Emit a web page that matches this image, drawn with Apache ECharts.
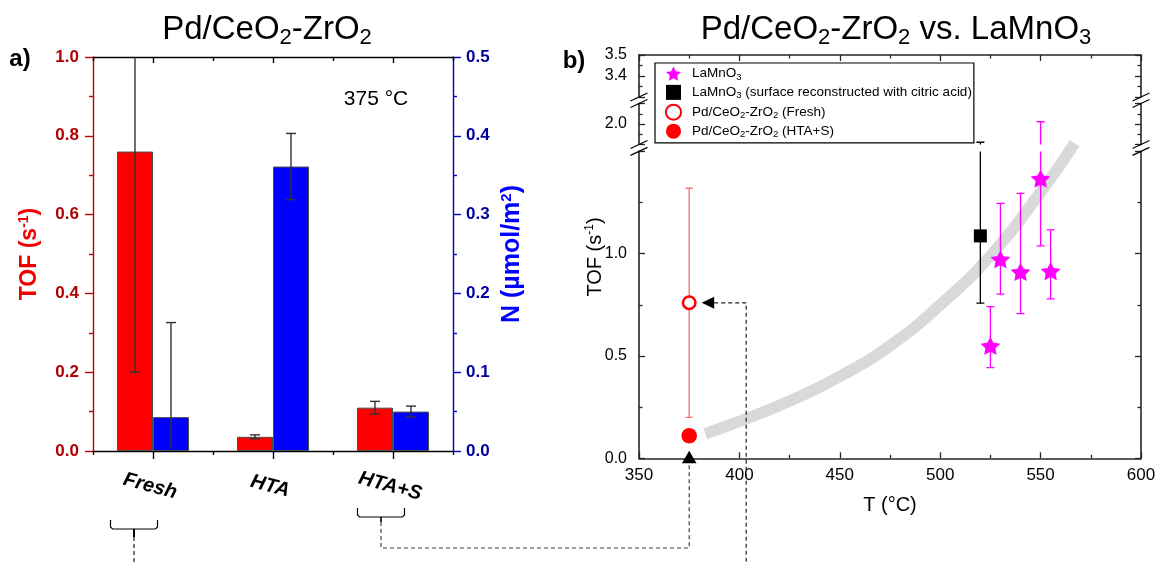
<!DOCTYPE html>
<html>
<head>
<meta charset="utf-8">
<script src="https://cdn.jsdelivr.net/npm/echarts@6/dist/echarts.min.js"></script>
<style>
  html, body { margin: 0; padding: 0; background: #fff; }
  #chart { width: 1155px; height: 565px; }
</style>
</head>
<body>
<div id="chart"></div>
<script>
// ---- Panel a: Pd/CeO2-ZrO2 at 375 °C ----
const treatments = ['Fresh', 'HTA', 'HTA+S'];
const tofValues = [0.76, 0.036, 0.11];
const tofErrors = [0.56, 0.005, 0.016];
const siteDensity = [0.043, 0.361, 0.050];
const siteDensityErrors = [0.12, 0.042, 0.007];

// ---- Panel b: TOF vs temperature ----
const lamnoT = [525, 530, 540, 550, 555];
const lamnoTOF = [0.550, 0.973, 0.911, 1.367, 0.915];
const lamnoLow = [0.443, 0.802, 0.707, 1.038, 0.779];
const lamnoHigh = [0.741, 1.246, 1.295, 2.011, 1.116];
const citricT = [520];
const citricTOF = [1.087];
const citricLow = [0.758];
const citricHigh = [1.911];
const pdT = [375];
const pdFreshTOF = [0.76];
const pdFreshLow = [0.20];
const pdFreshHigh = [1.32];
const pdAgedTOF = [0.11];
// grey guide curve
const trendT = [383, 400, 425, 450, 475, 500, 525, 550, 567];
const trendTOF = [0.12, 0.18, 0.28, 0.40, 0.55, 0.75, 0.99, 1.30, 1.54];

// tick labels of the broken TOF axis
const lowerTickLabels = [0, 0.5, 1.0];
const midTickLabels = [2.0];
const topTickLabels = [3.4, 3.5];

const FONT = '"Liberation Sans", Arial, Helvetica, sans-serif';
const chart = echarts.init(document.getElementById('chart'), null, { renderer: 'canvas', width: 1155, height: 565 });

// layout of the two panels
const GA = { left: 93, top: 57, width: 360, height: 394 };
const BX = 639, BW = 502;
const B_LOW = { top: 151.4, height: 306.9 };
const B_MID = { top: 103.5, height: 41 };
const B_TOP = { top: 55, height: 42 };
const FRAME = '#262626';

const fmt1 = v => Number(v).toFixed(1);
const rt = (size, color, weight, extra) => Object.assign({ fontSize: size, color: color, fontWeight: weight || 'normal', fontFamily: FONT }, extra || {});

const STAR = 'path://M0,-10 L2.94,-4.05 9.51,-3.09 4.76,1.55 5.88,8.09 0,5 -5.88,8.09 -4.76,1.55 -9.51,-3.09 -2.94,-4.05 Z';

function errorBar(color, capHalf, width, shift) {
  return function (params, api) {
    const dx = shift ? shift * api.size([1, 0])[0] : 0;
    const lo = api.coord([api.value(0), api.value(1)]);
    const hi = api.coord([api.value(0), api.value(2)]);
    const x = lo[0] + dx;
    const style = { stroke: color, lineWidth: width, fill: null };
    return {
      type: 'group',
      children: [
        { type: 'line', shape: { x1: x, y1: lo[1], x2: x, y2: hi[1] }, style: style },
        { type: 'line', shape: { x1: x - capHalf, y1: lo[1], x2: x + capHalf, y2: lo[1] }, style: style },
        { type: 'line', shape: { x1: x - capHalf, y1: hi[1], x2: x + capHalf, y2: hi[1] }, style: style }
      ]
    };
  };
}

function valueAxisB(gridIndex, pos, min, max, interval, labels, showLabels) {
  return {
    gridIndex: gridIndex, type: 'value', position: pos, min: min, max: max, interval: interval,
    axisLine: { show: true, lineStyle: { color: FRAME, width: 1.6 } },
    axisTick: { show: true, inside: true, length: 6, lineStyle: { color: FRAME, width: 1.3 } },
    minorTick: { show: true, splitNumber: 2, length: 3.5, lineStyle: { color: FRAME, width: 1.3 } },
    splitLine: { show: false }, minorSplitLine: { show: false },
    axisLabel: {
      show: showLabels, customValues: labels, formatter: fmt1, margin: 12,
      color: '#000', fontSize: 16, fontFamily: FONT
    }
  };
}

const tofErrData = tofValues.map((v, i) => [i, v - tofErrors[i], v + tofErrors[i]]);
const nErrData = siteDensity.map((v, i) => [i, v - siteDensityErrors[i], v + siteDensityErrors[i]]);
const lamnoErrData = lamnoT.map((t, i) => [t, lamnoLow[i], lamnoHigh[i]]);
const citricErrData = citricT.map((t, i) => [t, citricLow[i], citricHigh[i]]);
const pdErrData = pdT.map((t, i) => [t, pdFreshLow[i], pdFreshHigh[i]]);

function catAxis(pos, alignTicks, tickLen, inside, showLine) {
  return {
    gridIndex: 0, type: 'category', data: treatments, position: pos,
    axisLine: { show: showLine, lineStyle: { color: '#000', width: 1.4 } },
    axisTick: { show: true, alignWithLabel: alignTicks, inside: inside, length: tickLen, lineStyle: { color: '#000', width: 1.4 } },
    axisLabel: { show: false }, splitLine: { show: false }
  };
}

const subRich = {
  m: rt(33, '#000', 'normal', { lineHeight: 38 }),
  s: rt(22, '#000', 'normal', { verticalAlign: 'bottom', lineHeight: 18 })
};

const legendRich = {
  t: rt(13.5, '#000', 'normal', { lineHeight: 16.5 }),
  s: rt(9.5, '#000', 'normal', { verticalAlign: 'bottom', lineHeight: 8 })
};
const legendLabels = {
  'LaMnO3': '{t|LaMnO}{s|3}',
  'LaMnO3 citric': '{t|LaMnO}{s|3}{t| (surface reconstructed with citric acid)}',
  'Pd fresh': '{t|Pd/CeO}{s|2}{t|-ZrO}{s|2}{t| (Fresh)}',
  'Pd HTA+S': '{t|Pd/CeO}{s|2}{t|-ZrO}{s|2}{t| (HTA+S)}'
};

const option = {
  animation: false,
  backgroundColor: '#fff',
  textStyle: { fontFamily: FONT },
  title: [
    { text: '{m|Pd/CeO}{s|2}{m|-ZrO}{s|2}', left: 267, top: 11, textAlign: 'center', padding: 0, textStyle: { rich: subRich } },
    { text: '{m|Pd/CeO}{s|2}{m|-ZrO}{s|2}{m| vs. LaMnO}{s|3}', left: 896, top: 11, textAlign: 'center', padding: 0, textStyle: { rich: subRich } }
  ],
  legend: {
    orient: 'vertical', left: 655, top: 63,
    data: ['LaMnO3', 'LaMnO3 citric', 'Pd fresh', 'Pd HTA+S'],
    itemWidth: 15, itemHeight: 15, itemGap: 3,
    padding: [3.5, 2, 3.5, 10],
    borderColor: '#000', borderWidth: 1.2, backgroundColor: '#fff',
    selectedMode: false,
    formatter: name => legendLabels[name],
    textStyle: { padding: [0, 0, 0, 6], rich: legendRich }
  },
  grid: [
    { left: GA.left, top: GA.top, width: GA.width, height: GA.height, outerBoundsMode: 'none' },
    { left: BX, top: B_LOW.top, width: BW, height: B_LOW.height, outerBoundsMode: 'none' },
    { left: BX, top: B_MID.top, width: BW, height: B_MID.height, outerBoundsMode: 'none' },
    { left: BX, top: B_TOP.top, width: BW, height: B_TOP.height, outerBoundsMode: 'none' }
  ],
  xAxis: [
    Object.assign(catAxis('bottom', true, 8, false, true), {
      axisLabel: {
        show: true, rotate: -15, align: 'center', verticalAlign: 'middle', margin: 36,
        fontSize: 20, fontWeight: 'bold', fontStyle: 'italic', color: '#000', fontFamily: FONT,
        padding: [0, 6, 0, 0]
      }
    }),
    catAxis('bottom', false, 4, false, false),
    catAxis('top', true, 6, true, true),
    catAxis('top', false, 4, true, false),
    {
      gridIndex: 1, type: 'value', position: 'bottom', min: 350, max: 600, interval: 50,
      axisLine: { show: true, lineStyle: { color: FRAME, width: 1.6 } },
      axisTick: { show: true, inside: true, length: 6, lineStyle: { color: FRAME, width: 1.3 } },
      minorTick: { show: true, splitNumber: 2, length: 3.5, lineStyle: { color: FRAME, width: 1.3 } },
      splitLine: { show: false },
      axisLabel: { margin: 9, color: '#000', fontSize: 17, fontFamily: FONT },
      name: 'T (°C)', nameLocation: 'middle', nameGap: 37, nameMoveOverlap: false,
      nameTextStyle: { color: '#000', fontSize: 20, fontFamily: FONT }
    },
    { gridIndex: 2, type: 'value', min: 350, max: 600, show: false },
    {
      gridIndex: 3, type: 'value', position: 'top', min: 350, max: 600, interval: 50,
      axisLine: { show: true, lineStyle: { color: FRAME, width: 1.6 } },
      axisTick: { show: true, inside: true, length: 6, lineStyle: { color: FRAME, width: 1.3 } },
      minorTick: { show: true, splitNumber: 2, length: 3.5, lineStyle: { color: FRAME, width: 1.3 } },
      splitLine: { show: false }, axisLabel: { show: false }
    }
  ],
  yAxis: [
    {
      gridIndex: 0, type: 'value', position: 'left', min: 0, max: 1, interval: 0.2,
      axisLine: { show: true, lineStyle: { color: '#c00000', width: 1.4 } },
      axisTick: { show: true, length: 8, lineStyle: { color: '#c00000', width: 1.4 } },
      minorTick: { show: true, splitNumber: 2, length: 4, lineStyle: { color: '#c00000', width: 1.4 } },
      splitLine: { show: false },
      axisLabel: { formatter: fmt1, margin: 14, color: '#b00000', fontWeight: 'bold', fontSize: 17, fontFamily: FONT },
      name: '{a|TOF (s}{p|-1}{a|)}', nameLocation: 'middle', nameRotate: 90, nameGap: 51, nameMoveOverlap: false,
      nameTextStyle: { rich: { a: rt(23, '#f00000', 'bold', { lineHeight: 25 }), p: rt(14, '#f00000', 'bold', { verticalAlign: 'top', lineHeight: 12 }) } }
    },
    {
      gridIndex: 0, type: 'value', position: 'right', min: 0, max: 0.5, interval: 0.1,
      axisLine: { show: true, lineStyle: { color: '#0000c0', width: 1.4 } },
      axisTick: { show: true, length: 8, lineStyle: { color: '#0000c0', width: 1.4 } },
      minorTick: { show: true, splitNumber: 2, length: 4, lineStyle: { color: '#0000c0', width: 1.4 } },
      splitLine: { show: false },
      axisLabel: { formatter: fmt1, margin: 13, color: '#0000a0', fontWeight: 'bold', fontSize: 17, fontFamily: FONT },
      name: '{a|N (µmol/m}{p|2}{a|)}', nameLocation: 'middle', nameRotate: 90, nameGap: 46, nameMoveOverlap: false,
      nameTextStyle: { rich: { a: rt(25, '#0000ff', 'bold', { lineHeight: 26 }), p: rt(15, '#0000ff', 'bold', { verticalAlign: 'top', lineHeight: 13 }) } }
    },
    valueAxisB(1, 'left', 0, 1.5, 0.5, lowerTickLabels, true),
    valueAxisB(1, 'right', 0, 1.5, 0.5, lowerTickLabels, false),
    valueAxisB(2, 'left', 1.9, 2.1, 0.1, midTickLabels, true),
    valueAxisB(2, 'right', 1.9, 2.1, 0.1, midTickLabels, false),
    valueAxisB(3, 'left', 3.3, 3.5, 0.1, topTickLabels, true),
    valueAxisB(3, 'right', 3.3, 3.5, 0.1, topTickLabels, false)
  ],
  series: [
    {
      type: 'bar', name: 'TOF', xAxisIndex: 0, yAxisIndex: 0, data: tofValues,
      barWidth: '30%', barGap: '0%',
      itemStyle: { color: '#ff0000', borderColor: '#4d4d4d', borderWidth: 1 }
    },
    {
      type: 'bar', name: 'N', xAxisIndex: 0, yAxisIndex: 1, data: siteDensity,
      barWidth: '30%', barGap: '0%',
      itemStyle: { color: '#0000ff', borderColor: '#4d4d4d', borderWidth: 1 }
    },
    { type: 'custom', name: 'TOF error', xAxisIndex: 0, yAxisIndex: 0, clip: true, z: 5, data: tofErrData,
      encode: { x: 0, y: [1, 2] }, renderItem: errorBar('#333', 5, 1.4, -0.15) },
    { type: 'custom', name: 'N error', xAxisIndex: 0, yAxisIndex: 1, clip: true, z: 5, data: nErrData,
      encode: { x: 0, y: [1, 2] }, renderItem: errorBar('#333', 5, 1.4, 0.15) },

    {
      type: 'line', name: 'trend', xAxisIndex: 4, yAxisIndex: 2, z: 1, silent: true,
      data: trendT.map((t, i) => [t, trendTOF[i]]), smooth: 0.5, symbol: 'none', clip: false,
      lineStyle: { color: '#d9d9d9', width: 11.5, cap: 'butt' }
    },
    { type: 'custom', name: 'LaMnO3 error', xAxisIndex: 4, yAxisIndex: 2, clip: true, z: 3, data: lamnoErrData,
      encode: { x: 0, y: [1, 2] }, renderItem: errorBar('#ff00ff', 4, 1.3) },
    { type: 'custom', name: 'LaMnO3 error upper', xAxisIndex: 5, yAxisIndex: 4, clip: true, z: 3, data: lamnoErrData,
      encode: { x: 0, y: [1, 2] }, renderItem: errorBar('#ff00ff', 4, 1.3) },
    { type: 'custom', name: 'citric error', xAxisIndex: 4, yAxisIndex: 2, clip: true, z: 3, data: citricErrData,
      encode: { x: 0, y: [1, 2] }, renderItem: errorBar('#000', 4, 1.3) },
    { type: 'custom', name: 'citric error upper', xAxisIndex: 5, yAxisIndex: 4, clip: true, z: 3, data: citricErrData,
      encode: { x: 0, y: [1, 2] }, renderItem: errorBar('#000', 4, 1.3) },
    { type: 'custom', name: 'Pd error', xAxisIndex: 4, yAxisIndex: 2, clip: true, z: 3, data: pdErrData,
      encode: { x: 0, y: [1, 2] }, renderItem: errorBar('#f07070', 3.5, 1.3) },

    {
      type: 'scatter', name: 'LaMnO3', xAxisIndex: 4, yAxisIndex: 2, z: 4,
      data: lamnoT.map((t, i) => [t, lamnoTOF[i]]),
      symbol: STAR, symbolSize: [20, 19], symbolKeepAspect: true,
      itemStyle: { color: '#ff00ff', opacity: 1 }
    },
    {
      type: 'scatter', name: 'LaMnO3 citric', xAxisIndex: 4, yAxisIndex: 2, z: 4,
      data: citricT.map((t, i) => [t, citricTOF[i]]),
      symbol: 'rect', symbolSize: 13, itemStyle: { color: '#000', opacity: 1 }
    },
    {
      type: 'scatter', name: 'Pd fresh', xAxisIndex: 4, yAxisIndex: 2, z: 4,
      data: pdT.map((t, i) => [t, pdFreshTOF[i]]),
      symbol: 'circle', symbolSize: 12.5,
      itemStyle: { color: '#fff', borderColor: '#ff0000', borderWidth: 2.5, opacity: 1 }
    },
    {
      type: 'scatter', name: 'Pd HTA+S', xAxisIndex: 4, yAxisIndex: 2, z: 4,
      data: pdT.map((t, i) => [t, pdAgedTOF[i]]),
      symbol: 'circle', symbolSize: 15.5, itemStyle: { color: '#ff0000', opacity: 1 }
    }
  ]
};

chart.setOption(option);

// annotations: panel letters, axis breaks, brackets and connectors
function buildAnnotations() {
  const els = [];
  const txt = (text, x, y, font, extra) => els.push(Object.assign({
    type: 'text', z: 50,
    style: Object.assign({ text: text, x: x, y: y, align: 'center', verticalAlign: 'middle', fill: '#000', font: font }, extra || {})
  }));
  txt('a)', 20, 59, 'bold 24px ' + FONT);
  txt('b)', 574, 61, 'bold 24px ' + FONT);
  txt('375 °C', 376, 99, '21px ' + FONT);

  // rotated TOF title of the broken axis
  els.push({
    type: 'text', z: 50, x: 595, y: 257, rotation: Math.PI / 2,
    style: {
      text: '{a|TOF (s}{p|-1}{a|)}', align: 'center', verticalAlign: 'middle',
      rich: { a: rt(20, '#000', 'normal', { lineHeight: 22 }), p: rt(12, '#000', 'normal', { verticalAlign: 'top', lineHeight: 11 }) }
    }
  });

  // axis break marks
  const line = (x1, y1, x2, y2, extra) => els.push({
    type: 'line', z: 60, shape: { x1: x1, y1: y1, x2: x2, y2: y2 },
    style: Object.assign({ stroke: '#000', lineWidth: 1.3 }, extra || {})
  });
  const breaks = [B_TOP.top + B_TOP.height, B_MID.top, B_MID.top + B_MID.height, B_LOW.top];
  [BX, BX + BW].forEach(x => {
    breaks.forEach(y => line(x - 8.5, y + 4, x + 8.5, y - 4));
  });

  // brackets under the categories
  const catX = i => chart.convertToPixel({ xAxisIndex: 0 }, i);
  const pt = (t, v) => chart.convertToPixel({ gridIndex: 1 }, [t, v]);
  const bracket = (cx, half, yTop, yBar) => els.push({
    type: 'polyline', z: 60,
    shape: { points: [[cx - half, yTop], [cx - half, yBar - 2], [cx - half + 2, yBar], [cx + half - 2, yBar], [cx + half, yBar - 2], [cx + half, yTop]] },
    style: { stroke: '#000', lineWidth: 1.2, fill: null }
  });
  const dash = (points, color) => els.push({
    type: 'polyline', z: 60, shape: { points: points },
    style: { stroke: color || '#222', lineWidth: 1.2, lineDash: [4, 3], fill: null }
  });

  const fx = catX(0) - 19;
  bracket(fx, 23.5, 520, 529);
  line(fx, 529, fx, 537, { lineWidth: 2 });
  dash([[fx, 537], [fx, 566]]);

  const hx = catX(2) - 12;
  bracket(hx, 23.5, 508, 517);
  line(hx, 517, hx, 522, { lineWidth: 1.6 });

  const fresh = pt(pdT[0], pdFreshTOF[0]);
  const base = pt(pdT[0], 0);
  dash([[hx, 522], [hx, 548], [base[0], 548], [base[0], base[1] + 5]], '#444');

  // marker on the temperature axis
  els.push({
    type: 'polygon', z: 61,
    shape: { points: [[base[0], base[1] - 7.5], [base[0] - 7.3, base[1] + 5], [base[0] + 7.3, base[1] + 5]] },
    style: { fill: '#000' }
  });
  // arrow pointing at the fresh catalyst point
  els.push({
    type: 'polygon', z: 61,
    shape: { points: [[fresh[0] + 12.5, fresh[1]], [fresh[0] + 25, fresh[1] - 6], [fresh[0] + 25, fresh[1] + 6]] },
    style: { fill: '#000' }
  });
  dash([[fresh[0] + 25, fresh[1]], [fresh[0] + 57, fresh[1]], [fresh[0] + 57, 566]]);

  return els;
}

chart.setOption({ graphic: { elements: buildAnnotations() } });
</script>
</body>
</html>
